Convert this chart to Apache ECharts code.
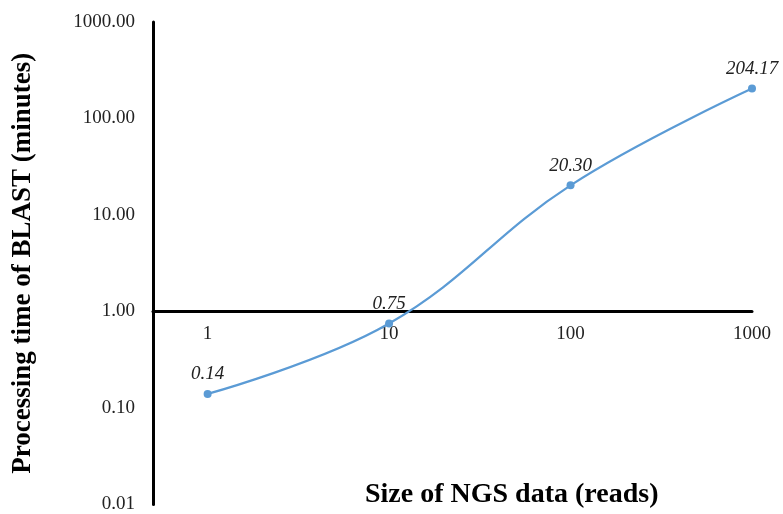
<!DOCTYPE html>
<html>
<head>
<meta charset="utf-8">
<script src="https://cdn.jsdelivr.net/npm/echarts@6/dist/echarts.min.js"></script>
<style>html,body{margin:0;padding:0;background:#fff;}#c{width:783px;height:514px;}</style>
</head>
<body>
<div id="c"></div>
<script>
const readSizes = [1, 10, 100, 1000];
const blastMinutes = [0.14, 0.75, 20.30, 204.17];
const xTickLabels = ['1', '10', '100', '1000'];
const yTickLabels = ['0.01', '0.10', '1.00', '10.00', '100.00', '1000.00'];
const xTitle = 'Size of NGS data (reads)';
const yTitle = 'Processing time of BLAST (minutes)';

const chart = echarts.init(document.getElementById('c'));
const serif = '"Liberation Serif", "Times New Roman", serif';
chart.setOption({
  animation: false,
  grid: { left: 153, right: 31, top: 22, bottom: 9, containLabel: false },
  xAxis: {
    type: 'log', logBase: 10, min: 0.5, max: 1000,
    offset: -193,
    axisLine: { onZero: false, lineStyle: { color: '#000', width: 3 } },
    axisTick: { show: false },
    splitLine: { show: false },
    axisLabel: {
      margin: 13, fontFamily: serif, fontSize: 19, color: '#222',
      showMinLabel: false,
      formatter: function (v) {
        const s = String(Math.round(v));
        return xTickLabels.indexOf(s) >= 0 && Math.abs(v - Math.round(v)) < 1e-6 ? s : '';
      }
    }
  },
  yAxis: {
    type: 'log', logBase: 10, min: 0.01, max: 1000,
    name: yTitle, nameLocation: 'middle', nameGap: 116, nameRotate: 90,
    nameTextStyle: { fontFamily: serif, fontSize: 27, fontWeight: 'bold', color: '#000' },
    axisLine: { onZero: false, lineStyle: { color: '#000', width: 3 } },
    axisTick: { show: false },
    splitLine: { show: false },
    axisLabel: {
      margin: 18, fontFamily: serif, fontSize: 19, color: '#222',
      formatter: function (v) {
        const s = v.toFixed(2);
        return yTickLabels.indexOf(s) >= 0 ? s : '';
      }
    }
  },
  graphic: [{
    type: 'text', left: 365, top: 481,
    style: { text: xTitle, font: 'bold 28px ' + serif, fill: '#000' }
  }],
  series: [{
    type: 'line',
    data: readSizes.map((x, i) => [x, blastMinutes[i]]),
    smooth: 0.4,
    symbol: 'circle', symbolSize: 8,
    lineStyle: { color: '#5B9BD5', width: 2.2 },
    itemStyle: { color: '#5B9BD5' },
    label: {
      show: true, position: 'top', distance: 6,
      fontFamily: serif, fontSize: 19, fontStyle: 'italic', color: '#222',
      formatter: p => p.value[1].toFixed(2)
    }
  }]
});
</script>
</body>
</html>
